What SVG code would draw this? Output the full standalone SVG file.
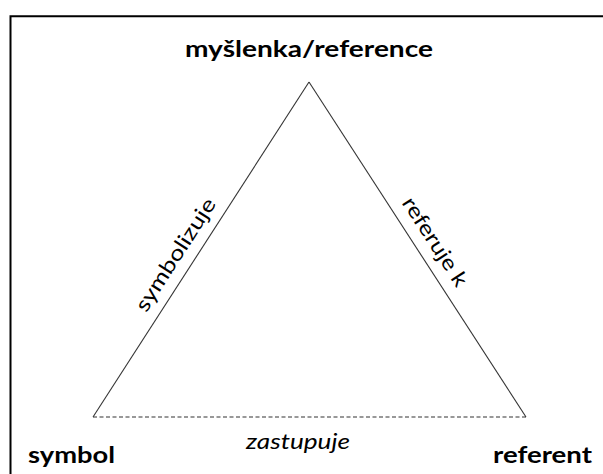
<svg xmlns="http://www.w3.org/2000/svg" width="603" height="474" viewBox="0 0 603 474">
  <style>
    .lbl { font-family: Lato, "Open Sans", "Liberation Sans", sans-serif; font-weight: bold; font-size: 22px; fill: #000; }
    .rel { font-family: Lato, "Open Sans", "Liberation Sans", sans-serif; font-size: 21px; fill: #000; }
    .it { font-style: italic; }
    .side { stroke: #333; stroke-width: 1.1; fill: none; }
    .dash { stroke: #333; stroke-width: 1.1; stroke-dasharray: 4 2.5; fill: none; }
  </style>
  <rect width="603" height="474" fill="#fff"/>
  <path d="M10.5 474 V16.2 H603" fill="none" stroke="#000" stroke-width="2"/>
  <g id="connectors">
    <line class="side" x1="309" y1="82" x2="93" y2="417"/>
    <line class="side" x1="309" y1="82" x2="526" y2="417"/>
    <line class="dash" x1="93" y1="417" x2="526" y2="417"/>
    <text class="rel" transform="translate(191.5 265) rotate(-57.2)" x="0" y="-12" text-anchor="middle" textLength="130" lengthAdjust="spacingAndGlyphs">symbolizuje</text>
    <text class="rel" transform="translate(419 252) rotate(57.1)" x="0" y="-12" text-anchor="middle" textLength="102" lengthAdjust="spacingAndGlyphs">referuje k</text>
    <text class="rel it" x="298" y="449" text-anchor="middle" textLength="104" lengthAdjust="spacingAndGlyphs">zastupuje</text>
  </g>
  <g id="node-reference">
    <text class="lbl" x="185" y="57" textLength="248" lengthAdjust="spacingAndGlyphs">myšlenka/reference</text>
  </g>
  <g id="node-symbol">
    <text class="lbl" x="28" y="463" textLength="87" lengthAdjust="spacingAndGlyphs">symbol</text>
  </g>
  <g id="node-referent">
    <text class="lbl" x="493" y="463" textLength="99" lengthAdjust="spacingAndGlyphs">referent</text>
  </g>
</svg>
